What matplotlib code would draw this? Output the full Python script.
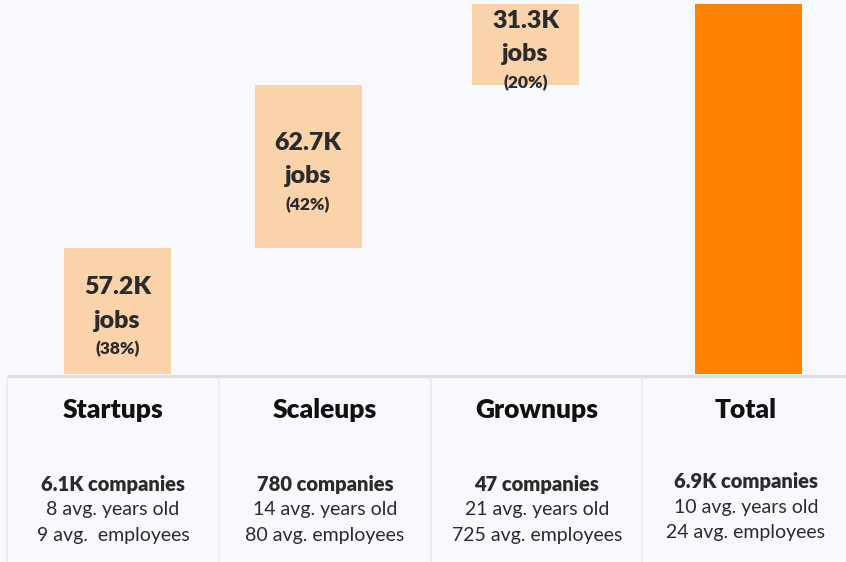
import matplotlib.pyplot as plt

plt.rcParams['font.family'] = ['Lato', 'DejaVu Sans']

# data
categories = ['Startups', 'Scaleups', 'Grownups', 'Total']
jobs_k = [57.2, 62.7, 31.3]
jobs_pct = ['38%', '42%', '20%']
total_k = 151.2
companies = ['6.1K companies', '780 companies', '47 companies', '6.9K companies']
avg_age = ['8 avg. years old', '14 avg. years old', '21 avg. years old', '10 avg. years old']
avg_emp = ['9 avg.  employees', '80 avg. employees', '725 avg. employees', '24 avg. employees']

BG = '#f8f9fd'
PEACH = '#fbd3ab'
ORANGE = '#ff8200'
TXT = '#2b2b2b'

W, H = 846, 562
fig = plt.figure(figsize=(W / 100, H / 100), dpi=100, facecolor=BG)

# bar area (pixel layout); baseline sits a little below the table edge
base_y, top_y = 374, 4
ylo = 8.5
ax = fig.add_axes([0, (H - base_y) / H, 1, (base_y - top_y) / H])
ax.set_facecolor(BG)
ax.set_xlim(0, W)
ax.set_ylim(ylo, total_k)
ax.axis('off')

xpos = [117.5, 308, 525.5, 748]
bw = 107

bottom = 0
for i, v in enumerate(jobs_k):
    ax.bar(xpos[i], v, bottom=bottom, width=bw, color=PEACH, zorder=2)
    mid = (max(bottom, ylo) + bottom + v) / 2
    ax.annotate(f'{v}K', (xpos[i], mid), xytext=(0, 17), textcoords='offset points',
                ha='center', va='center', fontsize=18, fontweight='heavy', color=TXT, zorder=3)
    ax.annotate('jobs', (xpos[i], mid), xytext=(0, -7), textcoords='offset points',
                ha='center', va='center', fontsize=18, fontweight='heavy', color=TXT, zorder=3)
    ax.annotate(f'({jobs_pct[i]})', (xpos[i], mid), xytext=(0, -27.5), textcoords='offset points',
                ha='center', va='center', fontsize=12.5, fontweight='heavy', color=TXT, zorder=3)
    bottom += v
ax.bar(xpos[3], total_k, width=bw, color=ORANGE, zorder=2)

# table area
tx = fig.add_axes([0, 0, 1, (H - base_y) / H])
tx.set_facecolor(BG)
tx.set_xlim(0, W)
tx.set_ylim(H, base_y)
tx.axis('off')
tx.plot([7, W], [376, 376], color='#dedede', lw=2.4, solid_capstyle='butt')
for xv in [7, 219, 431, 642]:
    tx.plot([xv, xv], [377.5, H], color='#ebebeb', lw=1.2)

centers = [113, 325, 537, 746]
shift = [0, 0, 0, -2.5]
for i, c in enumerate(centers):
    tx.text(c, 410, categories[i], ha='center', va='center', fontsize=19,
            fontweight='heavy', color='#111111')
    tx.text(c, 484 + shift[i], companies[i], ha='center', va='center', fontsize=14.5,
            fontweight='heavy', color=TXT)
    tx.text(c, 509.5 + shift[i], avg_age[i], ha='center', va='center', fontsize=14, color=TXT)
    tx.text(c, 535 + shift[i], avg_emp[i], ha='center', va='center', fontsize=14, color=TXT)

fig.savefig('out.png', dpi=100, facecolor=BG)
